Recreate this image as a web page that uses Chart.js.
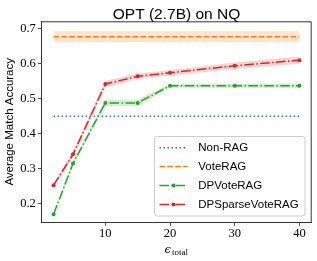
<!DOCTYPE html>
<html><head><meta charset="utf-8">
<script src="https://cdn.jsdelivr.net/npm/chart.js@4.4.1/dist/chart.umd.min.js"></script>
<style>html,body{margin:0;padding:0;background:#fff;} canvas{display:block;}</style>
</head><body>
<canvas id="c" width="317" height="261" style="width:317px;height:261px"></canvas>
<script>
const epsilons = [2, 5, 10, 15, 20, 30, 40];
const nonRag = 0.449;
const voteRag = 0.676;
const voteRagErr = 0.0155;
const dpVote = [0.169, 0.314, 0.487, 0.487, 0.536, 0.536, 0.536];
const dpVoteErr = [0.004, 0.006, 0.009, 0.010, 0.006, 0.0066, 0.0066];
const dpSparse = [0.252, 0.340, 0.541, 0.563, 0.573, 0.593, 0.609];
const dpSparseErr = [0.005, 0.008, 0.009, 0.008, 0.008, 0.009, 0.0105];
const xTicks = [10, 20, 30, 40];
const yTicks = [0.2, 0.3, 0.4, 0.5, 0.6, 0.7];
const chartTitle = 'OPT (2.7B) on NQ';

const xFirst = epsilons[0], xLast = epsilons[epsilons.length - 1];
const pts = (vals) => epsilons.map((x, i) => ({x, y: vals[i]}));
const flat = (v) => [{x: xFirst, y: v}, {x: xLast, y: v}];

const BLUE = '#1f77b4', ORANGE = '#ff7f0e', GREEN = '#2ca02c', RED = '#d62728';
const DOT = [1.5, 2.5], DASH = [5.5, 2.4], DASHDOT = [9.6, 2.4, 1.5, 2.4];

function bandPair(lo, hi, color) {
  return [
    {data: lo, borderWidth: 0, pointRadius: 0, fill: false, order: 20, borderColor: 'transparent'},
    {data: hi, borderWidth: 0, pointRadius: 0, fill: '-1', backgroundColor: color, order: 20, borderColor: 'transparent'}
  ];
}

const datasets = [
  ...bandPair(flat(voteRag - voteRagErr), flat(voteRag + voteRagErr), 'rgba(255,127,14,0.2)'),
  ...bandPair(pts(dpVote.map((v, i) => v - dpVoteErr[i])), pts(dpVote.map((v, i) => v + dpVoteErr[i])), 'rgba(44,160,44,0.2)'),
  ...bandPair(pts(dpSparse.map((v, i) => v - dpSparseErr[i])), pts(dpSparse.map((v, i) => v + dpSparseErr[i])), 'rgba(214,39,40,0.2)'),
  {label: 'Non-RAG', legend: true, data: flat(nonRag), borderColor: BLUE, borderWidth: 1.5, borderDash: DOT, pointRadius: 0, fill: false, order: 4},
  {label: 'VoteRAG', legend: true, data: flat(voteRag), borderColor: ORANGE, borderWidth: 1.5, borderDash: DASH, pointRadius: 0, fill: false, order: 3},
  {label: 'DPVoteRAG', legend: true, data: pts(dpVote), borderColor: GREEN, backgroundColor: GREEN, pointBackgroundColor: GREEN, borderWidth: 1.5, borderDash: DASHDOT, pointRadius: 2, pointBorderWidth: 0, fill: false, order: 2},
  {label: 'DPSparseVoteRAG', legend: true, data: pts(dpSparse), borderColor: RED, backgroundColor: RED, pointBackgroundColor: RED, borderWidth: 1.5, borderDash: DASHDOT, pointRadius: 2, pointBorderWidth: 0, fill: false, order: 1}
];

const framePlugin = {
  id: 'frame',
  afterDraw(chart) {
    const ctx = chart.ctx, ca = chart.chartArea;
    ctx.save();
    ctx.strokeStyle = '#333';
    ctx.lineWidth = 1;
    ctx.beginPath();
    ctx.moveTo(ca.left, ca.top + 0.5);
    ctx.lineTo(ca.right - 0.5, ca.top + 0.5);
    ctx.lineTo(ca.right - 0.5, ca.bottom);
    ctx.stroke();
    // title centered over the plot area
    ctx.fillStyle = '#000';
    ctx.font = '15.5px "Liberation Sans"';
    ctx.textAlign = 'center';
    ctx.textBaseline = 'alphabetic';
    ctx.fillText(chartTitle, (ca.left + ca.right) / 2, 18.5);
    ctx.restore();
  }
};

const legendPlugin = {
  id: 'insideLegend',
  afterDraw(chart) {
    const ctx = chart.ctx;
    const items = chart.data.datasets.filter(d => d.legend);
    ctx.save();
    const bx = 154.5, by = 136.5, bw = 150.5, bh = 79.5;
    ctx.beginPath();
    ctx.roundRect(bx, by, bw, bh, 3);
    ctx.fillStyle = 'rgba(255,255,255,0.8)';
    ctx.fill();
    ctx.strokeStyle = '#cccccc';
    ctx.lineWidth = 1;
    ctx.stroke();
    items.forEach((d, i) => {
      const y = 147.7 + i * 18.9;
      ctx.beginPath();
      ctx.setLineDash(d.borderDash || []);
      ctx.strokeStyle = d.borderColor;
      ctx.lineWidth = d.borderWidth;
      ctx.moveTo(159.5, y); ctx.lineTo(187.5, y);
      ctx.stroke();
      ctx.setLineDash([]);
      if (d.pointRadius > 0) {
        ctx.beginPath(); ctx.arc(173.5, y, d.pointRadius, 0, Math.PI * 2);
        ctx.fillStyle = d.borderColor; ctx.fill();
      }
      ctx.fillStyle = '#000';
      ctx.font = '11.5px "Liberation Sans"';
      ctx.textBaseline = 'middle';
      ctx.textAlign = 'left';
      ctx.fillText(d.label, 198.3, y + 0.5);
    });
    ctx.restore();
  }
};

const xTitlePlugin = {
  id: 'xTitle',
  afterDraw(chart) {
    const ctx = chart.ctx;
    const ca = chart.chartArea;
    const cx = (ca.left + ca.right) / 2;
    ctx.save();
    ctx.fillStyle = '#000';
    ctx.textBaseline = 'alphabetic';
    ctx.textAlign = 'left';
    ctx.font = 'italic 11.5px "DejaVu Serif"';
    ctx.fillText('ϵ', cx - 12, 252.5);
    ctx.font = '9px "Liberation Serif"';
    ctx.fillText('total', cx - 4.5, 255);
    ctx.restore();
  }
};

new Chart(document.getElementById('c'), {
  type: 'line',
  data: {datasets},
  options: {
    responsive: false,
    animation: false,
    devicePixelRatio: 1,
    layout: {padding: {left: 0, right: 5.3, top: 21.3, bottom: 0}},
    plugins: {
      legend: {display: false},
      tooltip: {enabled: false},
      title: {display: false}
    },
    scales: {
      x: {
        type: 'linear',
        min: 0.1, max: 41.9,
        afterBuildTicks: (s) => { s.ticks = xTicks.map(v => ({value: v})); },
        afterFit: (s) => { s.height = 38.7; },
        grid: {display: true, drawOnChartArea: false, drawTicks: true, tickLength: 3.5, color: '#222', tickWidth: 0.8},
        border: {display: true, color: '#333', width: 1},
        ticks: {color: '#000', padding: 0, font: {family: '"Liberation Serif"', size: 12.5}, maxRotation: 0}
      },
      y: {
        type: 'linear',
        min: 0.146, max: 0.72,
        afterBuildTicks: (s) => { s.ticks = yTicks.map(v => ({value: v})); },
        afterFit: (s) => { s.width = 41.3; },
        grid: {display: true, drawOnChartArea: false, drawTicks: true, tickLength: 3.5, color: '#222', tickWidth: 0.8},
        border: {display: true, color: '#333', width: 1},
        ticks: {color: '#000', padding: 2, font: {family: '"Liberation Serif"', size: 12.5}, callback: (v) => v.toFixed(1)},
        title: {display: true, text: 'Average Match Accuracy', color: '#000', padding: {top: 2.5, bottom: 0}, font: {family: '"Liberation Sans"', size: 11.5, lineHeight: 1.2}}
      }
    }
  },
  plugins: [framePlugin, legendPlugin, xTitlePlugin]
});
</script>
</body></html>
